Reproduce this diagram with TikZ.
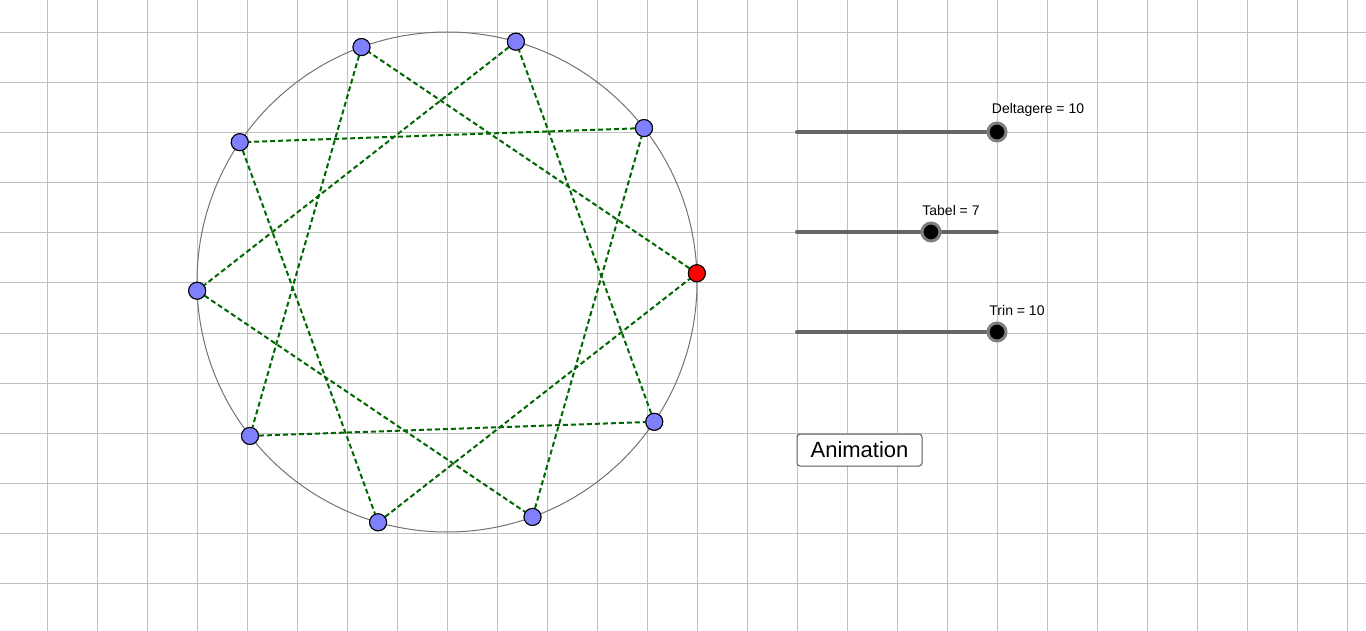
\documentclass[tikz,border=0pt]{standalone}
\usepackage{fontspec}
\setmainfont{Liberation Sans}
\usetikzlibrary{positioning,calc}
\tikzset{
  pt/.style={circle, draw=black, line width=1pt, fill=blue!50!white, minimum size=17pt, inner sep=0pt},
  knob/.style={circle, draw=gray, line width=3pt, fill=black, minimum size=18pt, inner sep=0pt},
  chord/.style={dashed, line width=2pt, dash pattern=on 5pt off 3pt, green!40!black},
  track/.style={line width=4pt, gray!80!black, line cap=round},
  lbl/.style={font=\fontsize{14}{16}\selectfont},
}
\begin{document}
\begin{tikzpicture}[x=1pt,y=-1pt]
        % Background and grid
            \useasboundingbox (0,0) rectangle (1366,631);
            \fill[white] (0,0) rectangle (1366,631);
            \foreach \x in {47,97,...,1347} \draw[gray!50, line width=1pt] (\x,0) -- (\x,631);
            \foreach \y in {33,83,...,583} \draw[gray!50, line width=1pt] (0,\y) -- (1366,\y);

        % Draw the circle
            \coordinate (c) at (447,282);
            \draw[gray!90!black, line width=1pt] (c) circle (250);

        % Draw the points
            \foreach \i in {0,...,9}
                \node[pt] (p\i) at ($(c)+({2+36*\i}:250 and -250)$) {};

        % Draw the chords
            \foreach \i in {0,...,9} {
                \pgfmathtruncatemacro\j{mod(\i+3,10)}
                \draw[chord] (p\i) -- (p\j);
            }
            \foreach \i in {1,...,9} \node[pt] at (p\i) {};
            \node[pt, fill=red] at (p0) {};

        % Draw the sliders
            \draw[track] (797,132) -- (997,132);
            \node[knob] (k1) at (997,132) {};
            \node[lbl, above=2pt of k1, xshift=41pt] {Deltagere = 10};
            \draw[track] (797,232) -- (997,232);
            \node[knob] (k2) at (931,232) {};
            \node[lbl, above=2pt of k2, xshift=20pt] {Tabel = 7};
            \draw[track] (797,332) -- (997,332);
            \node[knob] (k3) at (997,332) {};
            \node[lbl, above=2pt of k3, xshift=20pt] {Trin = 10};

        % Draw the button
            \node[draw=gray!70!black, line width=1pt, rounded corners=3pt, fill=white, minimum width=125pt, minimum height=32pt, inner sep=0pt, font=\fontsize{22}{24}\selectfont] (anim) at (859.5,450) {Animation};
\end{tikzpicture}
\end{document}
